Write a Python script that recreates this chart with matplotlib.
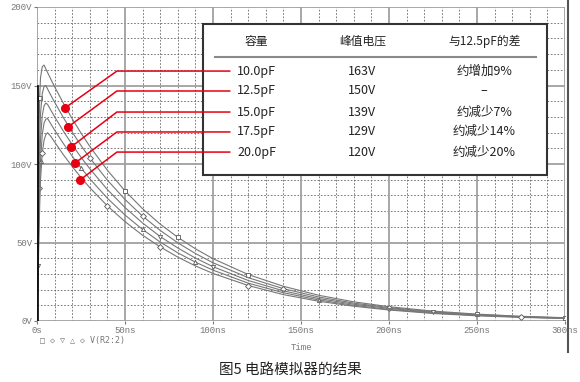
import numpy as np
import matplotlib
matplotlib.use("Agg")
import matplotlib.pyplot as plt
from matplotlib.lines import Line2D
from matplotlib.patches import Rectangle

plt.rcParams['font.family'] = ['Noto Sans CJK SC', 'DejaVu Sans']

# time axis (ns)
t = [0, 0.5, 1, 1.5, 2, 3, 4, 5, 6, 8, 10, 15, 20, 25, 30, 40, 50, 60, 70, 80,
     90, 100, 120, 140, 160, 180, 200, 225, 250, 275, 300]

# V(R2:2) for each capacitance
v_10p0 = [0, 60, 110, 142, 155, 162, 163, 160.6, 158.3, 153.7, 149.2, 138.7, 128.8, 119.7, 111.2,
          96.0, 82.9, 71.5, 61.7, 53.3, 46.0, 39.7, 29.6, 22.1, 16.4, 12.2, 9.1, 6.3, 4.4, 3.0, 2.1]
v_12p5 = [0, 45, 85, 115, 132, 145, 149.3, 150, 147.8, 143.5, 139.4, 129.5, 120.3, 111.8, 103.9,
          89.7, 77.4, 66.8, 57.7, 49.8, 43.0, 37.1, 27.6, 20.6, 15.3, 11.4, 8.5, 5.9, 4.1, 2.8, 2.0]
v_15p0 = [0, 35, 70, 98, 116, 131, 137, 138.8, 138.0, 134.0, 130.1, 120.9, 112.3, 104.3, 97.0,
          83.7, 72.3, 62.4, 53.8, 46.5, 40.1, 34.6, 25.8, 19.2, 14.3, 10.7, 8.0, 5.5, 3.8, 2.6, 1.8]
v_17p5 = [0, 28, 58, 84, 102, 119, 126, 128.5, 129, 125.3, 121.6, 113.0, 105.0, 97.5, 90.6,
          78.2, 67.5, 58.3, 50.3, 43.4, 37.5, 32.4, 24.1, 18.0, 13.4, 10.0, 7.4, 5.1, 3.6, 2.5, 1.7]
v_20p0 = [0, 22, 48, 72, 90, 107, 115, 118.7, 119.9, 117.4, 114.0, 105.9, 98.4, 91.4, 84.9,
          73.3, 63.3, 54.6, 47.2, 40.7, 35.1, 30.3, 22.6, 16.8, 12.6, 9.4, 7.0, 4.8, 3.3, 2.3, 1.6]

xticks = [0, 50, 100, 150, 200, 250, 300]
xlabels = ["0s", "50ns", "100ns", "150ns", "200ns", "250ns", "300ns"]
yticks = [0, 50, 100, 150, 200]
ylabels = ["0V", "50V", "100V", "150V", "200V"]

# table
header = ["容量", "峰值电压", "与12.5pF的差"]
cap = ["10.0pF", "12.5pF", "15.0pF", "17.5pF", "20.0pF"]
peak = ["163V", "150V", "139V", "129V", "120V"]
diff = ["约增加9%", "–", "约减少7%", "约减少14%", "约减少20%"]

# red pointer dots
dot_t = [15.9, 17.6, 19.3, 21.6, 24.4]
dot_v = [135.7, 123.6, 110.8, 100.6, 89.8]
row_v = [159.2, 146.5, 133.1, 120.4, 107.6]

fig = plt.figure(figsize=(5.8, 3.82), dpi=100)
ax = fig.add_axes([37/580, 1-321/382, 528/580, 314/382])

ax.set_xlim(0, 300)
ax.set_ylim(0, 200)

# grid
for xv in np.arange(10, 300, 10):
    if xv % 50:
        ax.axvline(xv, color="#666666", lw=0.6, ls=(0, (2, 2)), zorder=1)
for yv in np.arange(10, 200, 10):
    if yv % 50:
        ax.axhline(yv, color="#666666", lw=0.6, ls=(0, (2, 2)), zorder=1)
for xv in xticks:
    ax.axvline(xv, color="#a0a0a0", lw=1.3, zorder=1)
for yv in yticks:
    ax.axhline(yv, color="#a0a0a0", lw=1.3, zorder=1)

series = [v_10p0, v_12p5, v_15p0, v_17p5, v_20p0]
markers = ["s", "D", "v", "^", "D"]
marks = [[3, 16, 19, 22, 28, 30], [2, 14, 17, 23, 26], [1, 12, 18, 21, 27], [4, 13, 17, 20, 24], [5, 15, 18, 22, 29]]
for v, m, me in zip(series, markers, marks):
    ax.plot(t, v, color="#777777", lw=0.8, marker=m, markevery=me, ms=3,
            mfc="white", mec="#555555", mew=0.6, zorder=2)
# overlapping rising edges
ax.plot([0.3, 0.3], [0, 150], color="black", lw=1.2, zorder=2)

for sp in ax.spines.values():
    sp.set_visible(False)

mono = "Liberation Mono"
ax.set_xticks(xticks)
ax.set_xticklabels(xlabels, family=mono, fontsize=6.5, color="#777777")
ax.set_yticks(yticks)
ax.set_yticklabels(ylabels, family=mono, fontsize=6.5, color="#777777")
ax.tick_params(length=2, width=0.8, color="#777777", pad=1.5)
ax.set_xlabel("Time", family=mono, fontsize=6.5, color="#777777", labelpad=6)

fig.text(40/580, 1-341/382, "□ ◇ ▽ △ ◇ V(R2:2)", family=["DejaVu Sans Mono"],
         fontsize=6, color="#777777", va="center")

# table box
ax.add_patch(Rectangle((94.2, 93.0), 195.7, 96.2, facecolor="white", edgecolor="#333333",
                       lw=1.5, zorder=5))
ax.plot([101, 283.6], [168.2, 168.2], color="#8a8a8a", lw=1.5, zorder=6)
cols = [124.8, 184.9, 254.1]
for c, h in zip(cols, header):
    ax.text(c, 178.3, h, ha="center", va="center", fontsize=8.5, color="#222222", zorder=7)
for i in range(5):
    ax.text(cols[0], row_v[i], cap[i], ha="center", va="center", fontsize=9, color="#222222", zorder=7)
    ax.text(cols[1], row_v[i], peak[i], ha="center", va="center", fontsize=9, color="#222222", zorder=7)
    ax.text(cols[2], row_v[i], diff[i], ha="center", va="center", fontsize=9, color="#222222", zorder=7)

# red pointers
for dt, dv, rv in zip(dot_t, dot_v, row_v):
    ax.plot([dt, 45.4, 109.5], [dv, rv, rv], color="#e60012", lw=1.1, zorder=8)
    ax.plot(dt, dv, "o", color="#e60012", ms=5.5, zorder=9)

# frame line on the right of the screenshot
fig.add_artist(Line2D([568/580, 568/580], [1, 1-352/382], color="#555555", lw=1.5))

fig.text(0.5, 1-370/382, "图5 电路模拟器的结果", ha="center", va="center",
         fontsize=10.5, color="#222222")

fig.savefig("out.png", dpi=100)
